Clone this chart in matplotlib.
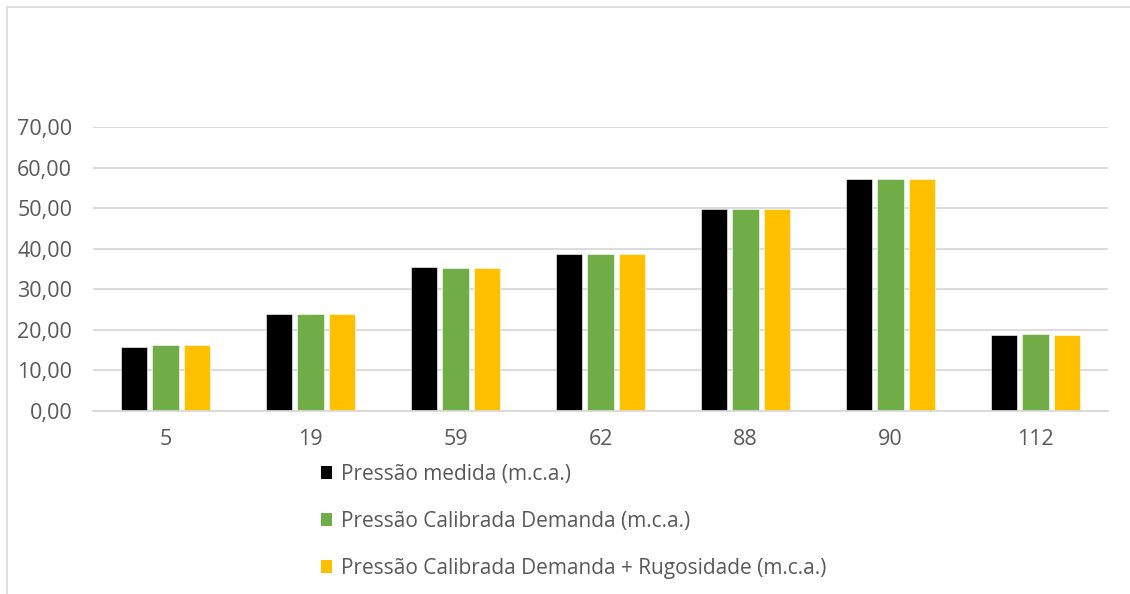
import matplotlib
matplotlib.use("Agg")
import matplotlib.pyplot as plt
from matplotlib.patches import Rectangle, Patch
import numpy as np

# Pressure at monitored nodes (m.c.a.)
nodes = ["5", "19", "59", "62", "88", "90", "112"]
pressao_medida = [15.8, 23.9, 35.4, 38.8, 49.8, 57.1, 18.8]
pressao_cal_demanda = [16.2, 23.9, 35.2, 38.7, 49.7, 57.1, 19.0]
pressao_cal_dem_rug = [16.2, 23.9, 35.2, 38.7, 49.7, 57.1, 18.8]

series_labels = [
    "Pressão medida (m.c.a.)",
    "Pressão Calibrada Demanda (m.c.a.)",
    "Pressão Calibrada Demanda + Rugosidade (m.c.a.)",
]
series_colors = ["#000000", "#70AD47", "#FFC000"]
yticks = [0, 10, 20, 30, 40, 50, 60, 70]

plt.rcParams["font.family"] = ["Open Sans", "DejaVu Sans"]
text_color = "#595959"
grid_color = "#d9d9d9"

W, H = 1130, 594
fig = plt.figure(figsize=(W / 100, H / 100), dpi=100)

# outer chart frame (top and left edges visible)
fig.patches.append(Rectangle((7 / W, -0.1), 1.2, (H - 7) / H + 0.1,
                             transform=fig.transFigure, fill=False,
                             edgecolor=grid_color, linewidth=1.2))

ax = fig.add_axes([93 / W, (H - 411) / H, (1108 - 93) / W, (411 - 127) / H])

x = np.arange(len(nodes))
width = 0.18
step = 0.22
all_series = [pressao_medida, pressao_cal_demanda, pressao_cal_dem_rug]
for i, (vals, col) in enumerate(zip(all_series, series_colors)):
    ax.bar(x + (i - 1) * step, vals, width, color=col, zorder=3,
           edgecolor="white", linewidth=0.4)

ax.set_xlim(-0.5, len(nodes) - 0.5)
ax.set_ylim(0, 70)
ax.set_yticks(yticks)
ax.set_yticklabels([f"{v:.2f}".replace(".", ",") for v in yticks])
ax.set_xticks(x)
ax.set_xticklabels(nodes)
ax.tick_params(axis="both", length=0, labelsize=15.5, labelcolor=text_color)
ax.tick_params(axis="y", pad=15)
ax.tick_params(axis="x", pad=13)
ax.grid(axis="y", color=grid_color, linewidth=1.3, zorder=0)
for s in ["top", "right", "left"]:
    ax.spines[s].set_visible(False)
ax.spines["bottom"].set_color(grid_color)
ax.spines["bottom"].set_linewidth(1.3)
ax.spines["bottom"].set_zorder(4)

handles = [Patch(facecolor=c, edgecolor="none") for c in series_colors]
fig.legend(handles, series_labels, loc="upper left",
           bbox_to_anchor=(321 / W, (H - 464) / H), frameon=False,
           fontsize=15, labelcolor=text_color, handlelength=0.55,
           handleheight=0.55, handletextpad=0.4, labelspacing=1.25,
           borderaxespad=0, borderpad=0)

fig.savefig("out.png", dpi=100, facecolor="white")
